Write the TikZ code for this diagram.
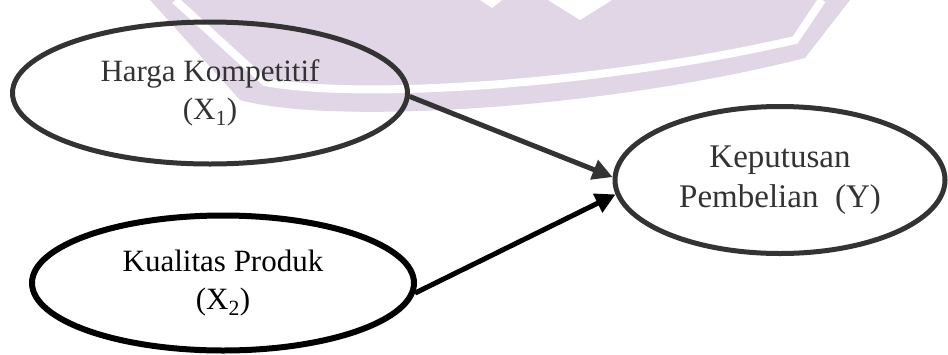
\documentclass[tikz,border=0pt]{standalone}
\usepackage{fontspec}
\setmainfont{Liberation Serif}
\usetikzlibrary{shapes.geometric,arrows.meta}
\definecolor{wm}{HTML}{E1D6E6}
\definecolor{dg}{HTML}{333333}
\begin{document}
\begin{tikzpicture}[x=1pt,y=-1pt,
  var/.style={ellipse, draw, line width=5pt, inner sep=0pt, align=center,
    font=\fontsize{31}{38}\selectfont},
  link/.style={line width=5pt, -{Triangle[length=20pt,width=20pt]}}]
\useasboundingbox (0,0) rectangle (948,354);
% faint watermark
\fill[wm] (150,0) -- (240,100) .. controls (330,125) and (600,110) .. (805,58) -- (850,0) -- cycle;
\draw[white, line width=8pt] (175,0) -- (265,82) .. controls (360,100) and (600,85) .. (795,40) -- (822,0);
\fill[white] (548,0) -- (580,20) -- (612,0) -- cycle;
\fill[white] (480,0) -- (492,8) -- (502,0) -- cycle;
% nodes
\node[var, draw=dg, text=dg, minimum width=395pt, minimum height=142pt] (h) at (210,93)
  {Harga Kompetitif\\(X\textsubscript{1})};
\node[var, draw=dg, text=dg, minimum width=330pt, minimum height=147pt,
  font=\fontsize{33}{40}\selectfont] (y) at (780,180)
  {Keputusan\\Pembelian\ \ (Y)};
\node[var, draw=black, text=black, line width=6pt, minimum width=382pt, minimum height=135pt] (k) at (223,283)
  {Kualitas Produk\\(X\textsubscript{2})};
% connectors
\draw[link, dg] (h.-1) -- (y.179);
\draw[link, black] (k.-3) -- (y.185);
\end{tikzpicture}
\end{document}
